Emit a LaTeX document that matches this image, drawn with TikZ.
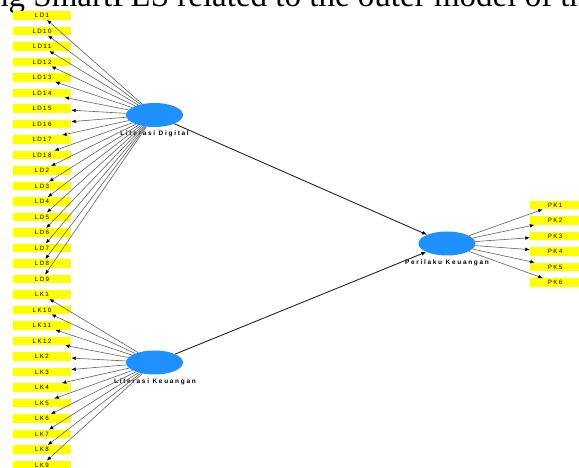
\documentclass[tikz,border=0pt]{standalone}
\usepackage{fontspec}
\setmainfont{Liberation Serif}
\newfontfamily\itemfont[LetterSpace=22]{Liberation Sans}
\newfontfamily\lvfont[LetterSpace=26]{Liberation Sans}
\usetikzlibrary{arrows.meta,shapes.geometric}

\definecolor{lvblue}{HTML}{1E90FF}
\definecolor{indyellow}{HTML}{FFFF00}

\tikzset{
  indicator/.style={rectangle, fill=indyellow, minimum width=58pt, minimum height=8.4pt,
    inner sep=0pt, font=\itemfont\fontsize{6.2}{6.5}\selectfont},
  pkbox/.style={indicator, minimum width=50pt},
  latent/.style={ellipse, fill=lvblue, minimum width=57pt, minimum height=24pt, inner sep=0pt},
  lvlabel/.style={font=\lvfont\bfseries\fontsize{6.5}{7}\selectfont},
  loading/.style={draw=black!62, line width=0.6pt, -{Latex[length=4.5pt,width=3.6pt,color=black]}},
  path/.style={draw=black!85, line width=0.9pt, -{Latex[length=5pt,width=4pt,color=black]}}
}

\begin{document}
\begin{tikzpicture}[x=1pt,y=-1pt]
\useasboundingbox (0,0) rectangle (579,468);
\clip (0,0) rectangle (579,468);

% caption line running off the top edge
\node[anchor=base west, inner sep=0pt, font=\fontsize{33}{36}\selectfont] (caption) at (-8,7)
  {ng SmartPLS related to the outer model of this};

% latent variables
\node[latent] (LD) at (154.5,115) {};
\node[latent] (LK) at (154.5,362.5) {};
\node[latent] (PK) at (447,243.5) {};
\node[lvlabel] (LDlab) at (154.5,134) {Literasi Digital};
\node[lvlabel] (LKlab) at (155,382) {Literasi Keuangan};
\node[lvlabel] (PKlab) at (447,262.5) {Perilaku Keuangan};

% indicators of Literasi Digital
\foreach \n [count=\i from 0] in {1,10,11,12,13,14,15,16,17,18,2,3,4,5,6,7,8,9}
  \node[indicator] (LD\n) at (42,15.5+15.5*\i) {LD\n};
% indicators of Literasi Keuangan
\foreach \n [count=\i from 18] in {1,10,11,12,2,3,4,5,6,7,8,9}
  \node[indicator] (LK\n) at (42,15.5+15.5*\i) {LK\n};
% indicators of Perilaku Keuangan
\foreach \n [count=\i from 0] in {1,2,3,4,5,6}
  \node[pkbox] (PK\n) at (555,205+15.5*\i) {PK\n};

% outer loadings
\foreach \n in {1,...,18} \draw[loading] (LD) -- (LD\n);
\foreach \n in {1,...,12} \draw[loading] (LK) -- (LK\n);
\foreach \n in {1,...,6} \draw[loading] (PK) -- (PK\n);

% structural paths
\draw[path] (LD) -- (PK);
\draw[path] (LK) -- (PK);
\end{tikzpicture}
\end{document}
